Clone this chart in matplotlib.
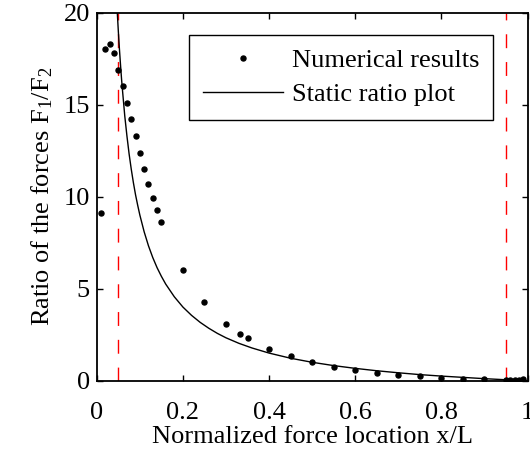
import matplotlib
matplotlib.use("Agg")
import matplotlib.pyplot as plt

plt.rcParams['font.family'] = ['Liberation Serif', 'DejaVu Serif']
plt.rcParams['mathtext.fontset'] = 'custom'
plt.rcParams['mathtext.rm'] = 'Liberation Serif'
plt.rcParams['mathtext.it'] = 'Liberation Serif:italic'
plt.rcParams['font.size'] = 19

# numerical results (dots)
num_x = [0.01, 0.02, 0.03, 0.04, 0.05, 0.06, 0.07, 0.08, 0.09, 0.10,
         0.11, 0.12, 0.13, 0.14, 0.15, 0.20, 0.25, 0.30, 0.333, 0.35,
         0.40, 0.45, 0.50, 0.55, 0.60, 0.65, 0.70, 0.75, 0.80, 0.85,
         0.90, 0.95, 0.96, 0.97, 0.98, 0.99]
num_y = [9.1, 18.0, 18.3, 17.8, 16.9, 16.0, 15.1, 14.2, 13.3, 12.4,
         11.5, 10.7, 9.95, 9.25, 8.6, 6.0, 4.28, 3.1, 2.55, 2.3,
         1.74, 1.34, 1.0, 0.77, 0.59, 0.44, 0.33, 0.24, 0.17, 0.11,
         0.07, 0.04, 0.04, 0.04, 0.05, 0.1]

# static ratio curve
static_x = [0.045, 0.0475, 0.05, 0.0525, 0.055, 0.0575, 0.06, 0.065, 0.07,
            0.075, 0.08, 0.085, 0.09, 0.095, 0.10, 0.11, 0.12, 0.13, 0.14,
            0.15, 0.16, 0.18, 0.20, 0.22, 0.24, 0.26, 0.28, 0.30, 0.33,
            0.36, 0.40, 0.45, 0.50, 0.55, 0.60, 0.65, 0.70, 0.75, 0.80,
            0.85, 0.90, 0.95, 1.00]
static_y = [21.2, 20.05, 19.0, 18.05, 17.2, 16.39, 15.7, 14.38, 13.3,
            12.33, 11.5, 10.76, 10.1, 9.53, 9.0, 8.09, 7.33, 6.69, 6.14,
            5.67, 5.25, 4.56, 4.0, 3.55, 3.17, 2.85, 2.57, 2.33, 2.03,
            1.78, 1.5, 1.22, 1.0, 0.82, 0.67, 0.54, 0.43, 0.33, 0.25,
            0.18, 0.11, 0.05, 0.0]

# support positions (red dashed lines)
supports = [0.05, 0.95]

fig = plt.figure(figsize=(5.30, 4.51), dpi=100)
ax = fig.add_axes([0.1826, 0.1559, 0.8128, 0.816])

for s in supports:
    ax.plot([s, s], [0, 20], color='red', lw=1.0, linestyle=(0, (10, 10)))

ax.plot(num_x, num_y, 'o', color='black', ms=3.6, label='Numerical results')
ax.plot(static_x, static_y, '-', color='black', lw=1.0, label='Static ratio plot')

ax.set_xlim(0, 1)
ax.set_ylim(0, 20)
ax.set_xticks([0, 0.2, 0.4, 0.6, 0.8, 1])
ax.set_xticklabels(['0', '0.2', '0.4', '0.6', '0.8', '1'])
ax.set_yticks([0, 5, 10, 15, 20])
ax.tick_params(direction='in', length=4, width=1, top=True, right=True)
ax.tick_params(axis='x', pad=15)
ax.tick_params(axis='y', pad=5)
for sp in ax.spines.values():
    sp.set_linewidth(1.3)

ax.set_xlabel('Normalized force location x/L', labelpad=2)
ax.set_ylabel('Ratio of the forces F$_1$/F$_2$', labelpad=6)

leg = ax.legend(loc='upper right', bbox_to_anchor=(0.920, 0.939),
                borderaxespad=0, handlelength=3.05, handletextpad=0.35,
                numpoints=1, fancybox=False, framealpha=1,
                edgecolor='black', labelspacing=0.42, borderpad=0.5)
leg.get_frame().set_linewidth(1.0)

fig.savefig('out.png', dpi=100)
